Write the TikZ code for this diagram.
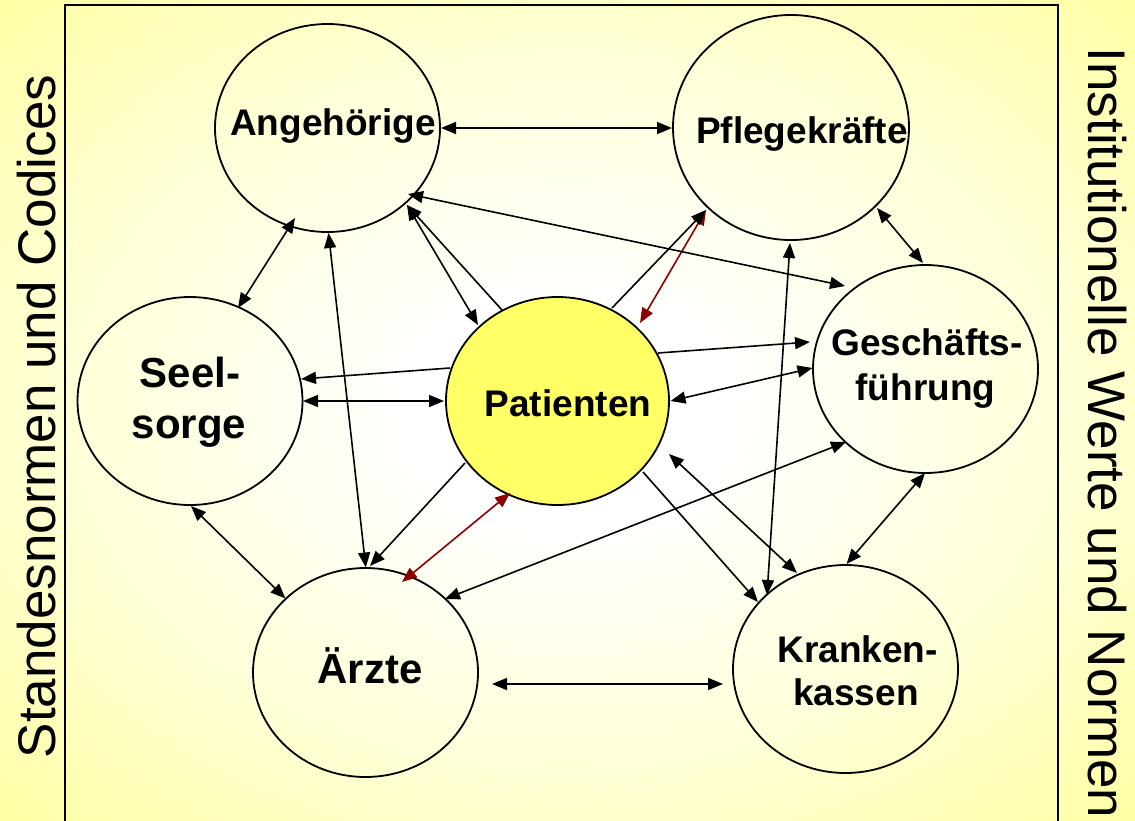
\documentclass[tikz,border=0pt]{standalone}
\usepackage{fontspec}
\setmainfont{Liberation Sans}
\usetikzlibrary{arrows.meta,calc,shapes.geometric}
\definecolor{bgA}{RGB}{255,255,215}
\definecolor{bgC}{RGB}{255,255,155}
\definecolor{bgB}{RGB}{255,255,100}
\definecolor{patfill}{RGB}{255,255,102}
\definecolor{darkred}{RGB}{140,0,0}
\pgfdeclareradialshading{bgsh}{\pgfpoint{0bp}{0bp}}{color(0bp)=(white); color(7bp)=(white); color(22bp)=(bgA); color(38bp)=(bgC); color(50bp)=(bgB); color(72bp)=(bgB)}
\begin{document}
\begin{tikzpicture}[x=1pt,y=-1pt,
  >={Triangle[length=15pt,width=12pt]},
  circ/.style={ellipse, draw, line width=1.8pt, inner sep=0pt, minimum width=225pt, minimum height=208pt},
  con/.style={line width=1.6pt},
  redcon/.style={line width=1.6pt, draw=darkred, fill=darkred},
  lbl/.style={font=\fontsize{37}{44}\selectfont\bfseries, anchor=base, inner sep=0pt},
  lblb/.style={font=\fontsize{42}{50}\selectfont\bfseries, anchor=base, inner sep=0pt},
  side/.style={font=\fontsize{53}{60}\selectfont, anchor=base, inner sep=0pt}
]
\clip (0,0) rectangle (1135,820);
\shade[shading=bgsh] (0,0) rectangle (1135,820);
\draw[line width=1.6pt] (65,840) -- (65,5) -- (1058,5) -- (1058,840);

% side texts
\node[side, rotate=90] (left) at (55,416.5) {Standesnormen und Codices};
\node[side, rotate=-90] (right) at (1088,433) {Institutionelle Werte und Normen};

% circles
\node[circ] (ang) at (327.5,128) {};
\node[circ, minimum width=236pt, minimum height=225pt] (pfl) at (791,127.5) {};
\node[circ] (seel) at (190,401) {};
\node[circ, fill=patfill, minimum width=223pt] (pat) at (557.5,401) {};
\node[circ] (gf) at (925.5,369) {};
\node[circ, minimum height=209pt] (arz) at (365.5,672.5) {};
\node[circ] (kk) at (845.5,669) {};

% labels
\node[lbl] (tang) at (333,135) {Angehörige};
\node[lbl] (tpfl) at (802,143) {Pflegekräfte};
\node[lblb] (tseelA) at (190,387) {Seel-};
\node[lblb] (tseelB) at (189,438) {sorge};
\node[lbl] (tpat) at (568,416) {Patienten};
\node[lbl] (tgfA) at (927,355) {Geschäfts-};
\node[lbl] (tgfB) at (925.5,400) {führung};
\node[lblb] (tarz) at (370,683) {Ärzte};
\node[lbl] (tkkA) at (857.5,662) {Kranken-};
\node[lbl] (tkkB) at (856,705) {kassen};

% red connectors
\draw[redcon,<->] ($(arz.center)+(36.5,-90.5)$) -- ($(pat.center)+(-47.5,92)$);
\draw[redcon,<->] ($(pat.center)+(82.5,-78)$) -- ($(pfl.center)+(-85,82.5)$);

% black connectors
\draw[con,<->] ($(ang.center)+(113.5,0)$) -- ($(pfl.center)+(-119,0.5)$);
\draw[con,<->] ($(ang.center)+(-32.5,90)$) -- ($(seel.center)+(48,-93)$);
\draw[con,<->] ($(ang.center)+(1,105)$) -- ($(arz.center)+(0.3,-105)$);
\draw[con,->] ($(pat.center)+(-92.5,62)$) -- ($(arz.center)+(4.5,-106.5)$);
\draw[con,<->] ($(pat.center)+(-79.5,-76)$) -- ($(ang.center)+(79.5,77)$);
\draw[con,->] ($(pat.center)+(-55.5,-91)$) -- ($(ang.center)+(79.5,77)$);
\draw[con,->] ($(pat.center)+(54.5,-93)$) -- ($(pfl.center)+(-85,82.5)$);
\draw[con,->] ($(pat.center)+(-107.5,-33)$) -- ($(seel.center)+(111,-22)$);
\draw[con,<->] ($(seel.center)+(113,0)$) -- ($(pat.center)+(-113.5,0)$);
\draw[con,->] ($(pat.center)+(100.5,-48)$) -- ($(gf.center)+(-115.5,-27)$);
\draw[con,<->] ($(pat.center)+(113,0)$) -- ($(gf.center)+(-113,-1)$);
\draw[con,->] ($(pat.center)+(85.5,71)$) -- ($(kk.center)+(-87.5,-67)$);
\draw[con,<->] ($(pat.center)+(111.5,53)$) -- ($(kk.center)+(-48.5,-96)$);
\draw[con,<->] ($(pfl.center)+(-1,115.5)$) -- ($(kk.center)+(-78.5,-74)$);
\draw[con,<->] ($(pfl.center)+(86,80.5)$) -- ($(gf.center)+(-2.5,-106)$);
\draw[con,<->] ($(ang.center)+(80.5,66)$) -- ($(gf.center)+(-80.5,-83)$);
\draw[con,<->] ($(gf.center)+(-79.5,73)$) -- ($(arz.center)+(79.5,-73.5)$);
\draw[con,<->] ($(gf.center)+(-0.5,104)$) -- ($(kk.center)+(1,-105)$);
\draw[con,<->] ($(seel.center)+(1,105)$) -- ($(arz.center)+(-80,-74)$);
\draw[con,<->] ($(arz.center)+(126.5,11.5)$) -- ($(kk.center)+(-122.5,15)$);
\end{tikzpicture}
\end{document}
